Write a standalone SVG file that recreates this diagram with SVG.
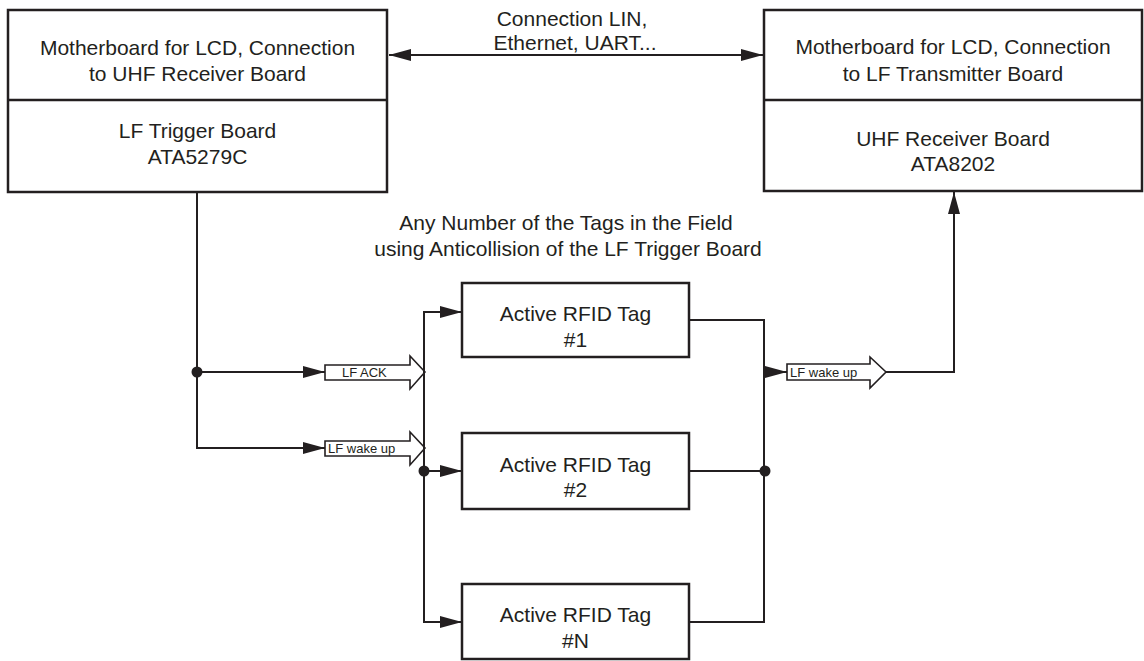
<svg xmlns="http://www.w3.org/2000/svg" width="1144" height="661" viewBox="0 0 1144 661">
<style>
  .box { fill: #fff; stroke: #231f20; stroke-width: 2.5; }
  .t { font-family: "Liberation Sans", Arial, sans-serif; font-size: 21px; fill: #231f20; text-anchor: middle; }
  .s { font-family: "Liberation Sans", Arial, sans-serif; font-size: 13px; fill: #231f20; }
  .ln { fill: none; stroke: #231f20; stroke-width: 2; }
  .hol { fill: #fff; stroke: #231f20; stroke-width: 1.6; stroke-linejoin: miter; }
  .dot { fill: #231f20; }
</style>
<defs>
  <marker id="ah" viewBox="0 0 22 12" refX="22" refY="6" markerWidth="22" markerHeight="12" markerUnits="userSpaceOnUse" orient="auto-start-reverse">
    <path d="M0,0 L22,6 L0,12 Z" fill="#231f20"/>
  </marker>
</defs>
<rect width="1144" height="661" fill="#fff"/>

<g id="left-board">
  <rect class="box" x="8" y="10" width="379" height="182"/>
  <line class="box" x1="8" y1="100" x2="387" y2="100"/>
  <text class="t" x="197.5" y="55">Motherboard for LCD, Connection</text>
  <text class="t" x="197.5" y="81">to UHF Receiver Board</text>
  <text class="t" x="197.5" y="138">LF Trigger Board</text>
  <text class="t" x="197.5" y="164">ATA5279C</text>
</g>

<g id="right-board">
  <rect class="box" x="764" y="10" width="378" height="181"/>
  <line class="box" x1="764" y1="100" x2="1142" y2="100"/>
  <text class="t" x="953" y="54">Motherboard for LCD, Connection</text>
  <text class="t" x="953" y="81">to LF Transmitter Board</text>
  <text class="t" x="953" y="146">UHF Receiver Board</text>
  <text class="t" x="953" y="171">ATA8202</text>
</g>

<g id="tag1">
  <rect class="box" x="462" y="283" width="227" height="74"/>
  <text class="t" x="575.5" y="321">Active RFID Tag</text>
  <text class="t" x="575.5" y="347">#1</text>
</g>
<g id="tag2">
  <rect class="box" x="462" y="433" width="227" height="76"/>
  <text class="t" x="575.5" y="472">Active RFID Tag</text>
  <text class="t" x="575.5" y="497">#2</text>
</g>
<g id="tagN">
  <rect class="box" x="462" y="584" width="227" height="75"/>
  <text class="t" x="575.5" y="622">Active RFID Tag</text>
  <text class="t" x="575.5" y="648">#N</text>
</g>

<g id="labels">
  <text class="t" x="572" y="26">Connection LIN,</text>
  <text class="t" x="575" y="50">Ethernet, UART...</text>
  <text class="t" x="566" y="230">Any Number of the Tags in the Field</text>
  <text class="t" x="568" y="256">using Anticollision of the LF Trigger Board</text>
</g>

<g id="connectors">
  <line class="ln" x1="389" y1="55" x2="763" y2="55" marker-start="url(#ah)" marker-end="url(#ah)"/>
  <polyline class="ln" points="197,192 197,448 325,448" marker-end="url(#ah)"/>
  <line class="ln" x1="197" y1="372" x2="325" y2="372" marker-end="url(#ah)"/>
  <circle class="dot" cx="197" cy="372" r="5.5"/>
  <path class="hol" d="M325,365 H410 V356 L425,372 L410,389 V380 H325 Z"/>
  <text class="s" x="342" y="377">LF ACK</text>
  <path class="hol" d="M325,441 H410 V432 L425,448 L410,465 V456 H325 Z"/>
  <text class="s" x="328" y="453">LF wake up</text>
  <line class="ln" x1="424" y1="312" x2="424" y2="622"/>
  <line class="ln" x1="423" y1="312" x2="462" y2="312" marker-end="url(#ah)"/>
  <line class="ln" x1="424" y1="471" x2="462" y2="471" marker-end="url(#ah)"/>
  <line class="ln" x1="423" y1="622" x2="462" y2="622" marker-end="url(#ah)"/>
  <circle class="dot" cx="424" cy="471" r="5.5"/>
  <polyline class="ln" points="689,320 764,320 764,622 689,622"/>
  <line class="ln" x1="689" y1="471" x2="764" y2="471"/>
  <circle class="dot" cx="765" cy="471" r="5.5"/>
  <line class="ln" x1="764" y1="372" x2="787" y2="372" marker-end="url(#ah)"/>
  <path class="hol" d="M787,364 H870 V357 L886,372 L870,388 V380 H787 Z"/>
  <text class="s" x="790" y="377">LF wake up</text>
  <polyline class="ln" points="886,372 954,372 954,192" marker-end="url(#ah)"/>
</g>
</svg>
